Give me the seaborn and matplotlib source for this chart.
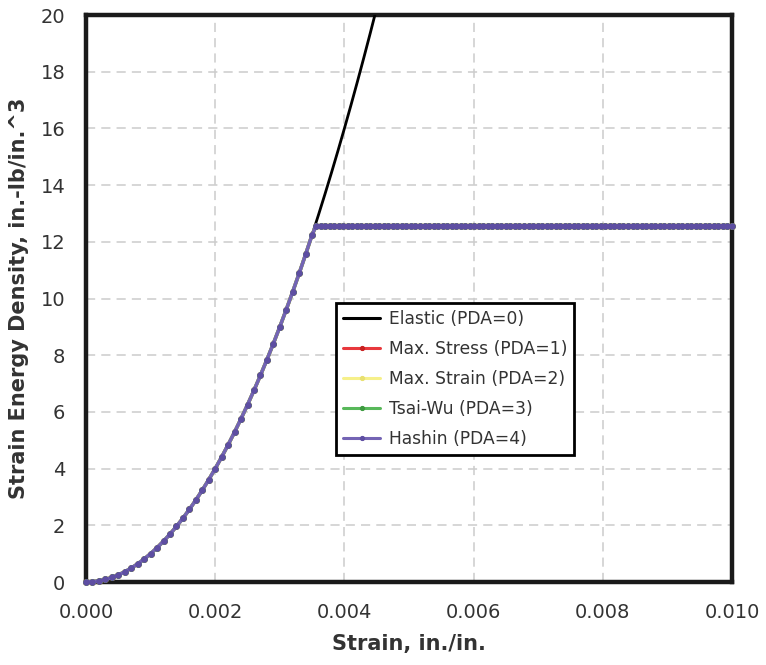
import matplotlib
matplotlib.use("Agg")
import matplotlib.pyplot as plt
import seaborn as sns
from matplotlib.ticker import FormatStrFormatter

# ---- data ----
strain_rise = [0.0000, 0.0001, 0.0002, 0.0003, 0.0004, 0.0005, 0.0006, 0.0007, 0.0008, 0.0009,
               0.0010, 0.0011, 0.0012, 0.0013, 0.0014, 0.0015, 0.0016, 0.0017, 0.0018, 0.0019,
               0.0020, 0.0021, 0.0022, 0.0023, 0.0024, 0.0025, 0.0026, 0.0027, 0.0028, 0.0029,
               0.0030, 0.0031, 0.0032, 0.0033, 0.0034, 0.0035]
energy_rise = [0.00, 0.01, 0.04, 0.09, 0.16, 0.25, 0.36, 0.49, 0.64, 0.81,
               1.00, 1.21, 1.44, 1.69, 1.96, 2.25, 2.56, 2.89, 3.24, 3.61,
               4.00, 4.41, 4.84, 5.29, 5.76, 6.25, 6.76, 7.29, 7.84, 8.41,
               9.00, 9.61, 10.24, 10.89, 11.56, 12.25]

strain_flat = [0.00356, 0.00363, 0.00370, 0.00377, 0.00384, 0.00391, 0.00398, 0.00405, 0.00412, 0.00419,
               0.00426, 0.00433, 0.00440, 0.00447, 0.00454, 0.00461, 0.00468, 0.00475, 0.00482, 0.00489,
               0.00496, 0.00503, 0.00510, 0.00517, 0.00524, 0.00531, 0.00538, 0.00545, 0.00552, 0.00559,
               0.00566, 0.00573, 0.00580, 0.00587, 0.00594, 0.00601, 0.00608, 0.00615, 0.00622, 0.00629,
               0.00636, 0.00643, 0.00650, 0.00657, 0.00664, 0.00671, 0.00678, 0.00685, 0.00692, 0.00699,
               0.00706, 0.00713, 0.00720, 0.00727, 0.00734, 0.00741, 0.00748, 0.00755, 0.00762, 0.00769,
               0.00776, 0.00783, 0.00790, 0.00797, 0.00804, 0.00811, 0.00818, 0.00825, 0.00832, 0.00839,
               0.00846, 0.00853, 0.00860, 0.00867, 0.00874, 0.00881, 0.00888, 0.00895, 0.00902, 0.00909,
               0.00916, 0.00923, 0.00930, 0.00937, 0.00944, 0.00951, 0.00958, 0.00965, 0.00972, 0.00979,
               0.00986, 0.00993, 0.01000]
energy_flat = [12.55, 12.55, 12.55, 12.55, 12.55, 12.55, 12.55, 12.55, 12.55, 12.55,
               12.55, 12.55, 12.55, 12.55, 12.55, 12.55, 12.55, 12.55, 12.55, 12.55,
               12.55, 12.55, 12.55, 12.55, 12.55, 12.55, 12.55, 12.55, 12.55, 12.55,
               12.55, 12.55, 12.55, 12.55, 12.55, 12.55, 12.55, 12.55, 12.55, 12.55,
               12.55, 12.55, 12.55, 12.55, 12.55, 12.55, 12.55, 12.55, 12.55, 12.55,
               12.55, 12.55, 12.55, 12.55, 12.55, 12.55, 12.55, 12.55, 12.55, 12.55,
               12.55, 12.55, 12.55, 12.55, 12.55, 12.55, 12.55, 12.55, 12.55, 12.55,
               12.55, 12.55, 12.55, 12.55, 12.55, 12.55, 12.55, 12.55, 12.55, 12.55,
               12.55, 12.55, 12.55, 12.55, 12.55, 12.55, 12.55, 12.55, 12.55, 12.55,
               12.55, 12.55, 12.55]

strain_elastic = strain_rise + [0.0036, 0.0037, 0.0038, 0.0039, 0.0040, 0.0041, 0.0042, 0.0043, 0.0044, 0.0045]
energy_elastic = energy_rise + [12.96, 13.69, 14.44, 15.21, 16.00, 16.81, 17.64, 18.49, 19.36, 20.25]

strain_pda = strain_rise + strain_flat
energy_pda = energy_rise + energy_flat

series_labels = ["Elastic (PDA=0)", "Max. Stress (PDA=1)", "Max. Strain (PDA=2)",
                 "Tsai-Wu (PDA=3)", "Hashin (PDA=4)"]
x_ticks = [0.000, 0.002, 0.004, 0.006, 0.008, 0.010]
y_ticks = [0, 2, 4, 6, 8, 10, 12, 14, 16, 18, 20]

# ---- plotting ----
sns.set_style("white")
plt.rcParams["font.family"] = ["DejaVu Sans"]

fig = plt.figure(figsize=(7.66, 6.65), dpi=100)
ax = fig.add_axes([0.1123, 0.1248, 0.8433, 0.8526])

sns.lineplot(x=strain_elastic, y=energy_elastic, ax=ax, color="black", linewidth=2.0,
             label=series_labels[0], sort=False, zorder=7)
n_before = len(ax.lines)
styles = [("#e8383d", "#c82020"), ("#f6f08a", "#e8e070"), ("#58b85a", "#3e9a40"), ("#7464b4", "#5e4ea2")]
for lab, (lc, mc) in zip(series_labels[1:], styles):
    sns.lineplot(x=strain_pda, y=energy_pda, ax=ax, color=lc, linewidth=2.5,
                 marker="o", markersize=4, markerfacecolor=mc, markeredgecolor=mc,
                 label=lab, sort=False, zorder=8)
for ln in ax.lines[n_before:]:
    ln.set_clip_on(False)

ax.set_xlim(0, 0.010)
ax.set_ylim(0, 20)
ax.set_xticks(x_ticks)
ax.set_yticks(y_ticks)
ax.xaxis.set_major_formatter(FormatStrFormatter("%.3f"))
ax.yaxis.set_major_formatter(FormatStrFormatter("%d"))
ax.grid(True, color="#cccccc", linestyle=(0, (6, 4)), linewidth=1.1, zorder=0)
ax.set_axisbelow(True)
ax.tick_params(axis="both", length=10, width=1.0, color="#d0d0d0", labelsize=14,
               labelcolor="#333333", pad=5)
for s in ax.spines.values():
    s.set_color("#1a1a1a")
    s.set_linewidth(3.2)
    s.set_zorder(6)

ax.set_xlabel("Strain, in./in.", fontsize=15, fontweight="bold", color="#333333", labelpad=9)
ax.set_ylabel("Strain Energy Density, in.-lb/in.^3", fontsize=15, fontweight="bold",
              color="#333333", labelpad=8)

leg = ax.legend(loc="upper left", bbox_to_anchor=(0.387, 0.492), frameon=True, fancybox=False,
                fontsize=12.3, handlelength=2.2, borderpad=0.4, labelspacing=0.7,
                handletextpad=0.5, borderaxespad=0)
leg.get_frame().set_edgecolor("black")
leg.get_frame().set_linewidth(2.0)
leg.get_frame().set_alpha(1)
leg.set_zorder(10)
for t in leg.get_texts():
    t.set_color("#333333")
for h in leg.legend_handles:
    h.set_linewidth(2.2)
    h.set_markersize(3)

fig.savefig("out.png", dpi=100)
